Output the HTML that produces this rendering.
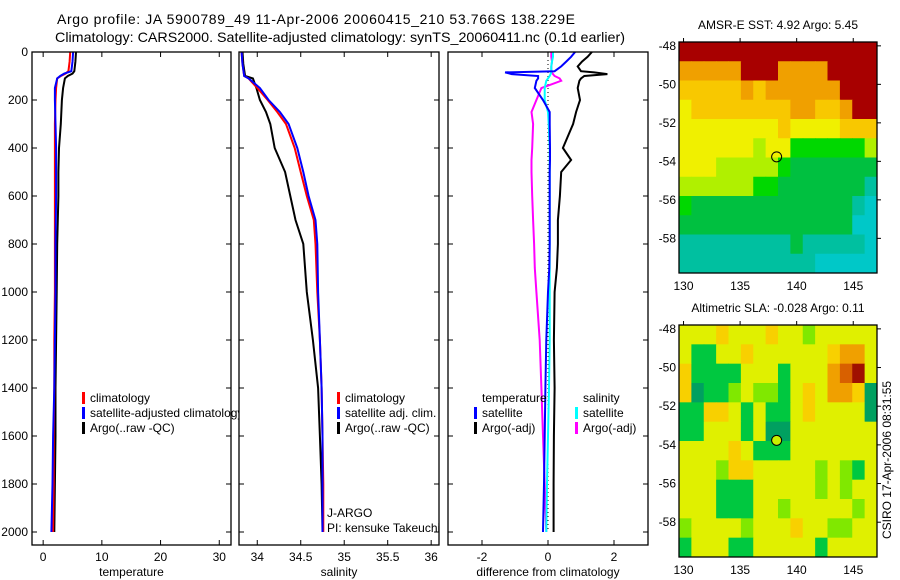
<!DOCTYPE html>
<html><head><meta charset="utf-8"><style>
html,body{margin:0;padding:0;background:#fff}
svg{display:block;font-family:"Liberation Sans",sans-serif}
</style></head><body>
<svg id="fig" width="900" height="580" viewBox="0 0 900 580">
<text x="57" y="24" font-size="14" textLength="518" lengthAdjust="spacing">Argo profile: JA 5900789_49 11-Apr-2006 20060415_210 53.766S 138.229E</text>
<text x="55" y="42" font-size="14" textLength="570" lengthAdjust="spacingAndGlyphs">Climatology: CARS2000. Satellite-adjusted climatology: synTS_20060411.nc (0.1d earlier)</text>
<text transform="translate(891,460) rotate(-90)" font-size="12" text-anchor="middle">CSIRO 17-Apr-2006 08:31:55</text>
</svg>
<script>
// ---------- data ----------
const tDepth=[0,40,80,90,100,110,150,200,300,400,500,600,800,1000,1200,1400,1600,1800,2000];
const tArgo=[5.6,5.5,5.3,5.0,4.2,3.7,3.4,3.2,3.0,2.7,2.6,2.6,2.4,2.3,2.2,2.1,2.1,2.0,1.9];
const tClim=[4.6,4.5,4.3,3.8,3.0,2.4,2.2,2.1,2.0,2.0,2.0,2.0,2.0,2.0,1.9,1.9,1.8,1.8,1.7];
const tSat=[5.1,5.0,4.8,3.6,2.9,2.4,2.0,2.0,2.1,2.2,2.2,2.2,2.1,2.1,2.0,1.9,1.7,1.6,1.4];
const sDepth=[0,50,100,110,150,200,250,300,400,500,600,700,800,1000,1200,1400,1600,1800,2000];
const sArgo=[33.83,33.84,33.86,33.95,33.99,34.03,34.10,34.15,34.20,34.32,34.38,34.44,34.53,34.57,34.64,34.70,34.72,34.74,34.75];
const sClim=[33.82,33.83,33.85,33.90,34.00,34.12,34.23,34.33,34.43,34.50,34.57,34.65,34.67,34.69,34.72,34.74,34.75,34.76,34.76];
const sSat=[33.82,33.83,33.85,33.90,34.03,34.13,34.26,34.36,34.46,34.53,34.59,34.67,34.69,34.70,34.72,34.74,34.75,34.75,34.75];
const dDepth=[0,20,40,60,80,85,92,100,110,120,150,200,250,300,400,450,500,600,700,800,900,1000,1200,1400,1600,1800,2000];
const dTempArgo=[1.33,1.2,1.03,0.9,1.0,1.4,1.8,1.1,1.0,0.95,0.9,0.97,0.85,0.76,0.45,0.7,0.4,0.36,0.3,0.3,0.27,0.2,0.18,0.2,0.18,0.17,0.17];
const dTempSat=[0.82,0.7,0.55,0.4,0.2,-1.3,-1.1,-0.3,-0.3,-0.35,-0.4,-0.15,0.05,0.05,0.06,0.06,0.05,0.05,0.05,0.05,0.04,0.0,-0.05,-0.08,-0.1,-0.12,-0.15];
const dSalSat=[0.15,0.15,0.12,0.1,0.1,0.1,0.08,0.05,0.0,-0.05,-0.1,-0.1,0.0,0.02,0.05,0.05,0.05,0.05,0.05,0.05,0.05,0.05,0.05,0.03,0.0,-0.03,-0.05];
const dSalArgo=[0.1,0.1,0.12,0.1,0.1,0.12,0.15,0.2,0.35,0.4,-0.2,-0.35,-0.5,-0.45,-0.48,-0.5,-0.5,-0.48,-0.45,-0.42,-0.4,-0.35,-0.25,-0.2,-0.15,-0.1,-0.05];
const sstGrid=["9999999999999999","8888899988889999","7777787888888999","6777777778877899","6666666676666777","6666665664444445","6665555543333333","5555554433333332","4333333333333321","3333333333333311","2222222223222221","2222222222211111"];
const slaGrid=["5556555655455555","5335565555556775","6333355535557895","6233454435657762","3366535335655552","3355535225555555","5555653335555555","5554665555545435","5553335555545455","5553335545555545","4555545556554455","3555335555535555"];
const sstPalette=["#00b4e0","#00c8c8","#00c0a0","#00c040","#00d800","#b0f000","#f0f000","#f8c800","#f0a000","#a80000"];
const slaPalette=["#00a0c0","#00b090","#00a060","#00c840","#80e800","#e0f000","#f8d000","#f0a000","#d86000","#a01000"];
const yTicks=[0,200,400,600,800,1000,1200,1400,1600,1800,2000];
const tTicks=[0,10,20,30];
const sTicks=[34,34.5,35,35.5,36];
const dTicks=[-2,0,2];
const lonTicks=[130,135,140,145];
const latTicks=[-48,-50,-52,-54,-56,-58];
const argoLon=138.229, argoLat=-53.766;

// ---------- helpers ----------
const NS="http://www.w3.org/2000/svg";
const svg=document.getElementById('fig');
function mk(tag,attrs,parent){const e=document.createElementNS(NS,tag);for(const k in attrs)e.setAttribute(k,attrs[k]);(parent||svg).appendChild(e);return e;}
const Y0=52,Y1=545;
function yD(d){return 52+d*0.24;}
function lin(d0,d1,p0,p1){return v=>p0+(v-d0)*(p1-p0)/(d1-d0);}

function panel(name,x0,x1,xd0,xd1,ticks,xlab){
  const g=mk('g',{});
  
  
  const r=mk('rect',{x:x0,y:Y0,width:x1-x0,height:Y1-Y0,fill:'#fff',stroke:'none'},g);
  
  
  const xs=lin(xd0,xd1,x0,x1);
  ticks.forEach(t=>{const x=xs(t);
    mk('line',{x1:x,x2:x,y1:Y1,y2:Y1-5,stroke:'#000'},g);
    mk('line',{x1:x,x2:x,y1:Y0,y2:Y0+5,stroke:'#000'},g);
    const tx=mk('text',{x:x,y:Y1+16,'font-size':12,'text-anchor':'middle'},g);
    tx.textContent=t;
    
    
  });
  yTicks.forEach(t=>{const y=yD(t);
    mk('line',{x1:x0,x2:x0+5,y1:y,y2:y,stroke:'#000'},g);
    mk('line',{x1:x1,x2:x1-5,y1:y,y2:y,stroke:'#000'},g);
  });
  const xl=mk('text',{x:(x0+x1)/2,y:576,'font-size':12,'text-anchor':'middle'},g);
  xl.textContent=xlab;
  
  
  return {g,xs,x0,x1};
}
function frame(p){const f=mk('rect',{x:p.x0,y:Y0,width:p.x1-p.x0,height:Y1-Y0,fill:'none',stroke:'#000','stroke-width':1.3},p.g);
  }
function line(p,vals,depths,color,name,w){
  let d='';vals.forEach((v,i)=>{d+=(i?'L':'M')+p.xs(v).toFixed(1)+','+yD(depths[i]).toFixed(1);});
  const l=mk('path',{d:d,fill:'none',stroke:color,'stroke-width':w||2,'stroke-linejoin':'miter'},p.g);
  
  
}
function legend(p,x,y,items){
  items.forEach((it,i)=>{
    if(it[1]){const m=mk('rect',{x:x,y:y+i*15-10,width:3,height:12,fill:it[1]},p.g);
      }
    const t=mk('text',{x:x+8,y:y+i*15,'font-size':12},p.g);t.textContent=it[0];
    
  });
}

// ---------- temperature panel ----------
const p1=panel('temperature-panel',32,231,-1.9,32,tTicks,'temperature');
yTicks.forEach(t=>{const tx=mk('text',{x:28,y:yD(t)+4,'font-size':12,'text-anchor':'end'},p1.g);tx.textContent=t;
  });
line(p1,tArgo,tDepth,'#000','temp-argo-line');
line(p1,tClim,tDepth,'#f00','temp-climatology-line');
line(p1,tSat,tDepth,'#00f','temp-satellite-line');
legend(p1,82,402,[['climatology','#f00'],['satellite-adjusted climatology','#00f'],['Argo(..raw -QC)','#000']]);
frame(p1);

// ---------- salinity panel ----------
const p2=panel('salinity-panel',239,439,33.79,36.09,sTicks,'salinity');
line(p2,sArgo,sDepth,'#000','sal-argo-line');
line(p2,sClim,sDepth,'#f00','sal-climatology-line');
line(p2,sSat,sDepth,'#00f','sal-satellite-line');
legend(p2,337,402,[['climatology','#f00'],['satellite adj. clim.','#00f'],['Argo(..raw -QC)','#000']]);
legend(p2,319,517,[['J-ARGO',null],['PI: kensuke Takeuchi',null]]);
frame(p2);

// ---------- difference panel ----------
const p3=panel('difference-panel',448,648,-3.03,3.03,dTicks,'difference from climatology');
const zx=p3.xs(0);
const zl=mk('line',{x1:zx,x2:zx,y1:Y0,y2:yD(2000),stroke:'#000','stroke-dasharray':'1,3'},p3.g);

line(p3,dSalArgo,dDepth,'#f0f','sal-argo-diff-line');
line(p3,dTempArgo,dDepth,'#000','temp-argo-diff-line');
line(p3,dSalSat,dDepth,'#0ff','sal-satellite-diff-line');
line(p3,dTempSat,dDepth,'#00f','temp-satellite-diff-line');
legend(p3,474,402,[['temperature',null],['satellite','#00f'],['Argo(-adj)','#000']]);
legend(p3,575,402,[['salinity',null],['satellite','#0ff'],['Argo(-adj)','#f0f']]);
frame(p3);

// ---------- maps ----------
function map(name,top,bot,grid,pal,title,circleFill){
  const g=mk('g',{});
  
  
  const L=679,R=877;
  const xs=lin(129.6,147.1,L,R);
  const ys=lin(-47.8,-59.8,top,bot);
  const rows=grid.length,cols=grid[0].length;
  const lonStep=(147.1-129.6)/cols, latStep=(59.8-47.8)/rows;
  grid.forEach((row,ri)=>{[...row].forEach((c,ci)=>{
    const xa=xs(129.6+ci*lonStep), xb=xs(129.6+(ci+1)*lonStep);
    const ya=ys(-47.8-ri*latStep), yb=ys(-47.8-(ri+1)*latStep);
    const cell=mk('rect',{x:xa.toFixed(2),y:ya.toFixed(2),width:(xb-xa+0.5).toFixed(2),height:(yb-ya+0.5).toFixed(2),fill:pal[+c]},g);
    
    
  });});
  const f=mk('rect',{x:L,y:top,width:R-L,height:bot-top,fill:'none',stroke:'#000','stroke-width':1.3},g);
  
  lonTicks.forEach(t=>{const x=xs(t);
    mk('line',{x1:x,x2:x,y1:top,y2:top-4,stroke:'#000'},g);
    const tx=mk('text',{x:x,y:bot+17,'font-size':12,'text-anchor':'middle'},g);tx.textContent=t;
    });
  latTicks.forEach(t=>{const y=ys(t);
    mk('line',{x1:R,x2:R+4,y1:y,y2:y,stroke:'#000'},g);
    const tx=mk('text',{x:L-3,y:y+4,'font-size':12,'text-anchor':'end'},g);tx.textContent=t;
    });
  const ti=mk('text',{x:(L+R)/2,y:top-13,'font-size':12,'text-anchor':'middle'},g);ti.textContent=title;
  
  const c=mk('circle',{cx:xs(argoLon),cy:ys(argoLat),r:5,fill:circleFill,stroke:'#000','stroke-width':1},g);
  
}
map('sst-map',42,273,sstGrid,sstPalette,'AMSR-E SST: 4.92  Argo: 5.45','none');
map('sla-map',325,557,slaGrid,slaPalette,'Altimetric SLA: -0.028  Argo: 0.11','#c8f000');
</script>
</body></html>
